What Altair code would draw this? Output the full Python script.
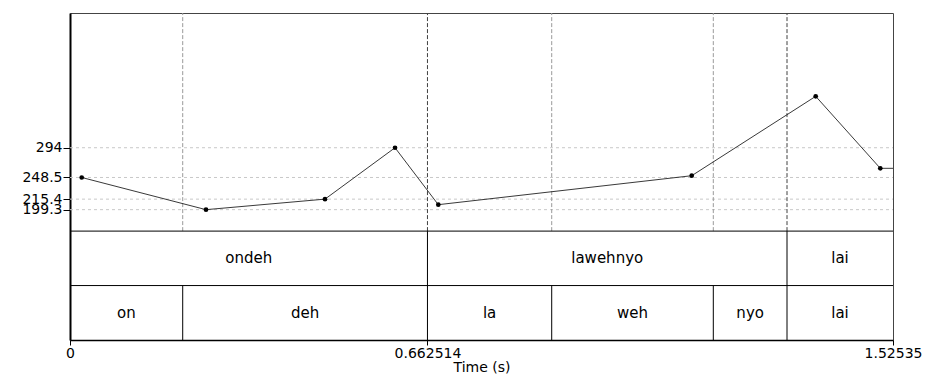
import altair as alt
import pandas as pd

# ---------------- data ----------------
t_max = 1.52535
pitch_t = [0.0217, 0.2521, 0.4726, 0.6024, 0.6826, 1.1523, 1.3821, 1.5018]
pitch_hz = [248.5, 199.3, 215.4, 294.0, 206.9, 251.2, 372.6, 262.5]

y_ticks = [199.3, 215.4, 248.5, 294.0]
x_ticks = [0, 0.662514, 1.52535]

words = ["ondeh", "lawehnyo", "lai"]
word_starts = [0, 0.662514, 1.3289]
word_ends = [0.662514, 1.3289, 1.52535]

syllables = ["on", "deh", "la", "weh", "nyo", "lai"]
syl_starts = [0, 0.2089, 0.662514, 0.8928, 1.1923, 1.3289]
syl_ends = [0.2089, 0.662514, 0.8928, 1.1923, 1.3289, 1.52535]

pitch_min, pitch_max = 166.5, 500.0

# ---------------- layout helpers ----------------
tier_h = pitch_min / 2.0
tier1_lo, tier1_hi = tier_h, pitch_min
tier2_lo, tier2_hi = 0.0, tier_h

FONT = "DejaVu Sans"
xs = alt.Scale(domain=[0, t_max], nice=False, zero=False)
ys = alt.Scale(domain=[0, pitch_max], nice=False, zero=False)

x_axis = alt.Axis(
    values=x_ticks, format=".6~g", title="Time (s)", grid=False,
    domainColor="black", domainWidth=1.5, tickColor="black", tickSize=5, tickWidth=1,
    labelFont=FONT, labelFontSize=14, labelColor="black", labelPadding=1,
    labelFlush=False, labelOverlap=False, labelBound=False,
    titleFont=FONT, titleFontSize=14, titleFontWeight="normal", titleColor="black",
    titlePadding=0)
y_axis = alt.Axis(
    values=y_ticks, format=".6~g", title=None, grid=False,
    domainColor="black", domainWidth=2, tickColor="black", tickSize=7, tickWidth=1,
    labelFont=FONT, labelFontSize=14, labelColor="black", labelPadding=1,
    labelFlush=False, labelOverlap=False, labelBound=False)


def X(f):
    return alt.X(f, scale=xs, axis=x_axis, title="Time (s)")


def Y(f):
    return alt.Y(f, scale=ys, axis=y_axis, title=None)


# horizontal dashed gridlines at tick values
hgrid_df = pd.DataFrame({"y": y_ticks, "x0": [0.0] * len(y_ticks), "x1": [t_max] * len(y_ticks)})
hgrid = alt.Chart(hgrid_df).mark_rule(color="#c8c8c8", strokeWidth=1, strokeDash=[3, 3]).encode(
    x=X("x0:Q"), x2="x1:Q", y=Y("y:Q"))

# vertical dashed boundary lines in the pitch area
syl_only = [b for b in syl_starts[1:] if b not in word_starts]
vlight_df = pd.DataFrame({"x": syl_only, "y0": [pitch_min] * len(syl_only), "y1": [pitch_max] * len(syl_only)})
vlight = alt.Chart(vlight_df).mark_rule(color="#9a9a9a", strokeWidth=1, strokeDash=[4, 2]).encode(
    x=X("x:Q"), y=Y("y0:Q"), y2="y1:Q")

wb = word_starts[1:]
vdark_df = pd.DataFrame({"x": wb, "y0": [pitch_min] * len(wb), "y1": [pitch_max] * len(wb)})
vdark = alt.Chart(vdark_df).mark_rule(color="#404040", strokeWidth=1, strokeDash=[4, 2]).encode(
    x=X("x:Q"), y=Y("y0:Q"), y2="y1:Q")

# tier separators (horizontal)
sep_df = pd.DataFrame({"y": [tier1_hi, tier1_lo], "x0": [0.0, 0.0], "x1": [t_max, t_max]})
seps = alt.Chart(sep_df).mark_rule(color="black", strokeWidth=1).encode(
    x=X("x0:Q"), x2="x1:Q", y=Y("y:Q"))

# tier interval boundaries
t1b_df = pd.DataFrame({"x": wb, "y0": [tier1_lo] * len(wb), "y1": [tier1_hi] * len(wb)})
t1b = alt.Chart(t1b_df).mark_rule(color="black", strokeWidth=1).encode(
    x=X("x:Q"), y=Y("y0:Q"), y2="y1:Q")
sb = syl_starts[1:]
t2b_df = pd.DataFrame({"x": sb, "y0": [tier2_lo] * len(sb), "y1": [tier2_hi] * len(sb)})
t2b = alt.Chart(t2b_df).mark_rule(color="black", strokeWidth=1).encode(
    x=X("x:Q"), y=Y("y0:Q"), y2="y1:Q")

# tier labels
lab_df = pd.DataFrame({
    "text": words + syllables,
    "x": [(a + b) / 2 for a, b in zip(word_starts, word_ends)] + [(a + b) / 2 for a, b in zip(syl_starts, syl_ends)],
    "y": [(tier1_lo + tier1_hi) / 2] * len(words) + [(tier2_lo + tier2_hi) / 2] * len(syllables),
})
labels = alt.Chart(lab_df).mark_text(font=FONT, fontSize=15, color="black", baseline="middle", align="center").encode(
    x=X("x:Q"), y=Y("y:Q"), text="text:N")

# pitch contour (extended flat to the right edge, as drawn)
line_df = pd.DataFrame({"t": pitch_t + [t_max], "hz": pitch_hz + [pitch_hz[-1]]})
pline = alt.Chart(line_df).mark_line(color="#222222", strokeWidth=0.9).encode(
    x=X("t:Q"), y=Y("hz:Q"))

pts_df = pd.DataFrame({"t": pitch_t, "hz": pitch_hz})
pts = alt.Chart(pts_df).mark_point(filled=True, color="black", size=22, opacity=1, shape="circle").encode(
    x=X("t:Q"), y=Y("hz:Q"))

chart = alt.layer(hgrid, vlight, vdark, seps, t1b, t2b, labels, pline, pts).properties(
    width=823, height=327,
    padding={"left": 62, "top": 5, "right": 30, "bottom": 36},
    autosize=alt.AutoSizeParams(type="none"),
).configure_view(stroke="#444444", strokeWidth=1)

chart.save("out.html", embed_options={"renderer": "svg", "actions": False})
